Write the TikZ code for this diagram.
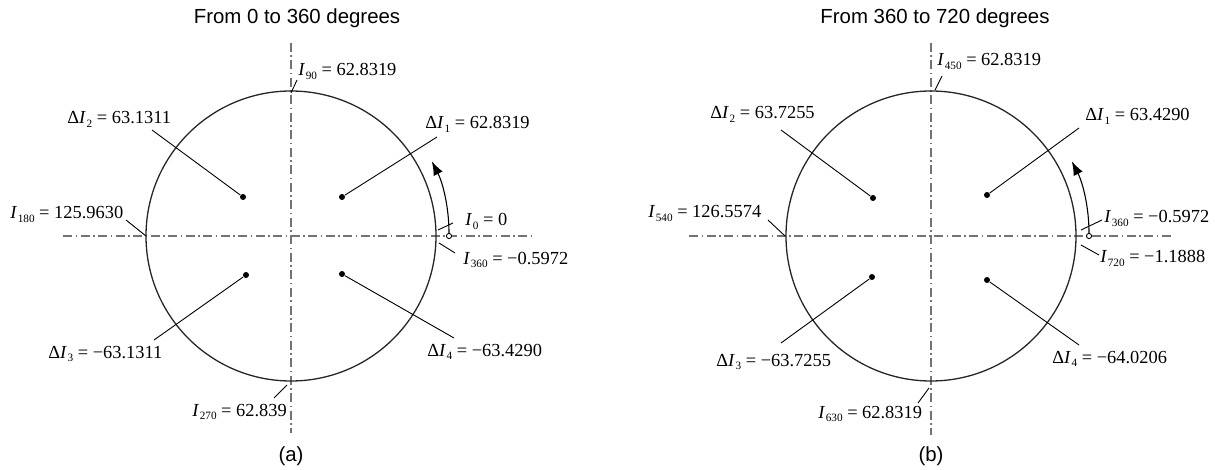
\documentclass[tikz,border=0pt]{standalone}
\usepackage{fontspec}
\setmainfont{Liberation Serif}
\newfontfamily\titlesans{Liberation Sans}
\usetikzlibrary{arrows.meta}
\newcommand\Isub[1]{\textit{I}\kern0.3pt\raisebox{-0.45ex}{\fontsize{5.6}{6}\selectfont #1}}
\newcommand\dIsub[1]{Δ\Isub{#1}}
\begin{document}
\begin{tikzpicture}[x=0.5pt,y=-0.5pt,
  axisline/.style={draw=black!55,line width=0.9pt,dash pattern=on 4.5pt off 1.75pt on 0.75pt off 1.75pt},
  ring/.style={draw=black!85,line width=0.65pt},
  leader/.style={draw=black,line width=0.45pt},
  dotnode/.style={circle,fill=black,inner sep=0pt,minimum size=3pt},
  openc/.style={circle,draw=black,fill=white,inner sep=0pt,minimum size=2.6pt,line width=0.45pt},
  lbl/.style={anchor=base west,inner sep=0pt,font=\fontsize{9.2}{11}\selectfont},
  ttl/.style={inner sep=0pt,font=\titlesans\fontsize{10.2}{12}\selectfont},
  arcarrow/.style={draw=black,line width=0.55pt,-{Latex[length=7pt,width=5pt]}}]
\useasboundingbox (0,0) rectangle (1215,470);

% ---------------- (a) ----------------
\node[ttl] (tA) at (297,18) {From 0 to 360 degrees};
\node[ttl] (capA) at (291,456) {(a)};
\coordinate (A) at (291,236);
\coordinate (Ah1) at (63,236);  \coordinate (Ah2) at (533,236);
\coordinate (Av1) at (291,43);  \coordinate (Av2) at (291,433);
\draw[axisline] (Ah1) -- (Ah2);
\draw[axisline] (Av1) -- (Av2);
\draw[ring] (A) circle[radius=145];

\node[dotnode] (a1) at (342,197) {};
\node[dotnode] (a2) at (243,197) {};
\node[dotnode] (a3) at (246,275) {};
\node[dotnode] (a4) at (342,274) {};

\node[lbl] (LA90)  at (298,76)  {\Isub{90} = 62.8319};
\node[lbl] (LAd2)  at (67,124)  {\dIsub{2} = 63.1311};
\node[lbl] (LAd1)  at (425,129) {\dIsub{1} = 62.8319};
\node[lbl] (LA180) at (10,219)  {\Isub{180} = 125.9630};
\node[lbl] (LA0)   at (465,226) {\Isub{0} = 0};
\node[lbl] (LA360) at (463,264) {\Isub{360} = −0.5972};
\node[lbl] (LAd3)  at (48,358)  {\dIsub{3} = −63.1311};
\node[lbl] (LAd4)  at (427,356) {\dIsub{4} = −63.4290};
\node[lbl] (LA270) at (192,416) {\Isub{270} = 62.839};

\coordinate (pA90a) at (291,93);  \coordinate (pA90b) at (297,80);
\coordinate (pAd2) at (152,130);
\coordinate (pAd1) at (437,137);
\coordinate (pA180a) at (126,220); \coordinate (pA180b) at (146,236);
\coordinate (pA0a) at (438,230);  \coordinate (pA0b) at (453,223);
\coordinate (pA360a) at (439,243); \coordinate (pA360b) at (455,253);
\coordinate (pAd3) at (154,340);
\coordinate (pAd4) at (454,338);
\coordinate (pA270a) at (287,385); \coordinate (pA270b) at (274,398);

\draw[leader] (pA90a) -- (pA90b);
\draw[leader] (pAd2) -- (a2);
\draw[leader] (pAd1) -- (a1);
\draw[leader] (pA180a) -- (pA180b);
\draw[leader] (pA0a) -- (pA0b);
\draw[leader] (pA360a) -- (pA360b);
\draw[leader] (pAd3) -- (a3);
\draw[leader] (pAd4) -- (a4);
\draw[leader] (pA270a) -- (pA270b);

\node[openc] (sA) at (449,236) {};
\draw[arcarrow] (sA.north) arc[start angle=0,end angle=-27,radius=158];

% ---------------- (b) ----------------
\node[ttl] (tB) at (935,18) {From 360 to 720 degrees};
\node[ttl] (capB) at (931,456) {(b)};
\coordinate (B) at (931,236);
\coordinate (Bh1) at (689,236);  \coordinate (Bh2) at (1173,236);
\coordinate (Bv1) at (931,43);   \coordinate (Bv2) at (931,435);
\draw[axisline] (Bh1) -- (Bh2);
\draw[axisline] (Bv1) -- (Bv2);
\draw[ring] (B) circle[radius=145];

\node[dotnode] (b1) at (987,195) {};
\node[dotnode] (b2) at (873,198) {};
\node[dotnode] (b3) at (872,277) {};
\node[dotnode] (b4) at (987,280) {};

\node[lbl] (LB450) at (937,66)   {\Isub{450} = 62.8319};
\node[lbl] (LBd2)  at (710,119)  {\dIsub{2} = 63.7255};
\node[lbl] (LBd1)  at (1085,121) {\dIsub{1} = 63.4290};
\node[lbl] (LB540) at (648,218)  {\Isub{540} = 126.5574};
\node[lbl] (LB360) at (1104,223) {\Isub{360} = −0.5972};
\node[lbl] (LB720) at (1100,263) {\Isub{720} = −1.1888};
\node[lbl] (LBd3)  at (716,366)  {\dIsub{3} = −63.7255};
\node[lbl] (LBd4)  at (1052,363) {\dIsub{4} = −64.0206};
\node[lbl] (LB630) at (818,418)  {\Isub{630} = 62.8319};

\coordinate (pB450a) at (935,90);  \coordinate (pB450b) at (942,76);
\coordinate (pBd2) at (781,130);
\coordinate (pBd1) at (1079,128);
\coordinate (pB540a) at (768,220); \coordinate (pB540b) at (785,236);
\coordinate (pB360a) at (1081,230); \coordinate (pB360b) at (1102,220);
\coordinate (pB720a) at (1081,245); \coordinate (pB720b) at (1099,255);
\coordinate (pBd3) at (781,343);
\coordinate (pBd4) at (1079,345);
\coordinate (pB630a) at (929,388); \coordinate (pB630b) at (918,403);

\draw[leader] (pB450a) -- (pB450b);
\draw[leader] (pBd2) -- (b2);
\draw[leader] (pBd1) -- (b1);
\draw[leader] (pB540a) -- (pB540b);
\draw[leader] (pB360a) -- (pB360b);
\draw[leader] (pB720a) -- (pB720b);
\draw[leader] (pBd3) -- (b3);
\draw[leader] (pBd4) -- (b4);
\draw[leader] (pB630a) -- (pB630b);

\node[openc] (sB) at (1089,236) {};
\draw[arcarrow] (sB.north) arc[start angle=0,end angle=-27,radius=158];
\end{tikzpicture}
\end{document}
